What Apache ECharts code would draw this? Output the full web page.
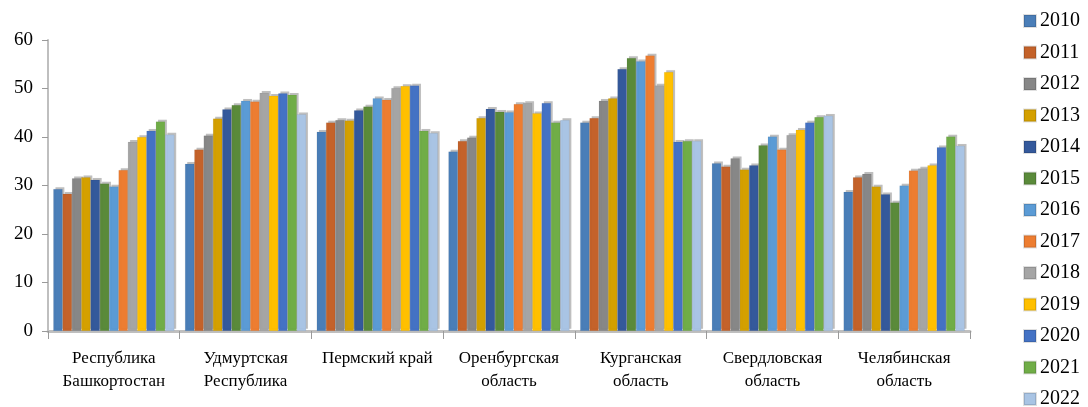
<!DOCTYPE html>
<html>
<head>
<meta charset="utf-8">
<script src="https://cdn.jsdelivr.net/npm/echarts@6/dist/echarts.min.js"></script>
<style>
  html, body { margin: 0; padding: 0; background: #fff; }
  #chart { width: 1088px; height: 407px; }
</style>
</head>
<body>
<div id="chart"></div>
<script>
// Regions along the category axis
const regions = [
  'Республика\nБашкортостан',
  'Удмуртская\nРеспублика',
  'Пермский край',
  'Оренбургская\nобласть',
  'Курганская\nобласть',
  'Свердловская\nобласть',
  'Челябинская\nобласть'
];

const years = ['2010','2011','2012','2013','2014','2015','2016','2017','2018','2019','2020','2021','2022'];

// One array per year, values in region order
const v2010 = [29.3, 34.5, 41.1, 37.0, 43.0, 34.6, 28.7];
const v2011 = [28.3, 37.4, 43.0, 39.2, 43.9, 33.9, 31.7];
const v2012 = [31.5, 40.3, 43.5, 39.9, 47.5, 35.6, 32.4];
const v2013 = [31.7, 43.8, 43.4, 43.9, 48.0, 33.3, 29.8];
const v2014 = [31.2, 45.7, 45.5, 45.8, 54.0, 34.2, 28.2];
const v2015 = [30.4, 46.6, 46.3, 45.2, 56.3, 38.3, 26.5];
const v2016 = [29.8, 47.5, 48.0, 45.1, 55.6, 40.1, 30.0];
const v2017 = [33.2, 47.3, 47.7, 46.8, 56.8, 37.4, 33.1];
const v2018 = [39.0, 49.1, 50.1, 47.0, 50.6, 40.4, 33.5];
const v2019 = [40.0, 48.5, 50.5, 44.9, 53.4, 41.5, 34.2];
const v2020 = [41.3, 49.0, 50.6, 47.0, 39.0, 43.0, 37.9];
const v2021 = [43.2, 48.7, 41.3, 43.0, 39.2, 44.1, 40.1];
const v2022 = [40.5, 44.7, 40.8, 43.5, 39.2, 44.4, 38.2];

const yearValues = [v2010, v2011, v2012, v2013, v2014, v2015, v2016, v2017, v2018, v2019, v2020, v2021, v2022];

const yTicks = { min: 0, max: 60, interval: 10 };

const palette = [
  '#4a7eb8', '#c4622a', '#878787', '#d4a000', '#34599b', '#5a8a3a', '#5b9bd5',
  '#ed7d31', '#a5a5a5', '#ffc000', '#4472c4', '#70ad47', '#a9c4e4'
];

const serif = '"Liberation Serif", "DejaVu Serif", serif';

const chart = echarts.init(document.getElementById('chart'));

const series = years.map((y, i) => ({
  name: y,
  type: 'bar',
  data: yearValues[i],
  barGap: '0%',
  barCategoryGap: '8%',
  itemStyle: {
    color: palette[i],
    borderColor: 'rgba(0,0,0,0.12)',
    borderWidth: 0.5,
    shadowColor: 'rgba(0,0,0,0.25)',
    shadowOffsetX: 2,
    shadowOffsetY: -2,
    shadowBlur: 0
  }
}));

chart.setOption({
  animation: false,
  color: palette,
  textStyle: { fontFamily: serif },
  grid: { left: 48, right: 118, top: 40, bottom: 76, containLabel: false },
  legend: {
    orient: 'vertical',
    left: 1023,
    top: 11,
    padding: 0,
    height: 405,
    itemWidth: 12,
    itemHeight: 12,
    itemGap: 11.5,
    icon: 'rect',
    textStyle: { fontFamily: serif, fontSize: 20, color: '#000', padding: [0, 0, 0, -1] },
    data: years
  },
  xAxis: {
    type: 'category',
    data: regions,
    axisLine: { show: true, lineStyle: { color: '#bfbfbf', width: 3 } },
    axisTick: { show: true, length: 8, lineStyle: { color: '#9a9a9a' } },
    axisLabel: {
      interval: 0,
      hideOverlap: false,
      fontFamily: serif, fontSize: 17, color: '#000', lineHeight: 23, margin: 16
    }
  },
  yAxis: {
    type: 'value',
    min: yTicks.min,
    max: yTicks.max,
    interval: yTicks.interval,
    axisLine: { show: true, lineStyle: { color: '#bfbfbf', width: 2 } },
    axisTick: { show: true, length: 6, lineStyle: { color: '#9a9a9a' } },
    splitLine: { show: false },
    axisLabel: { fontFamily: serif, fontSize: 19, color: '#000', margin: 15 }
  },
  series: series
});
</script>
</body>
</html>
